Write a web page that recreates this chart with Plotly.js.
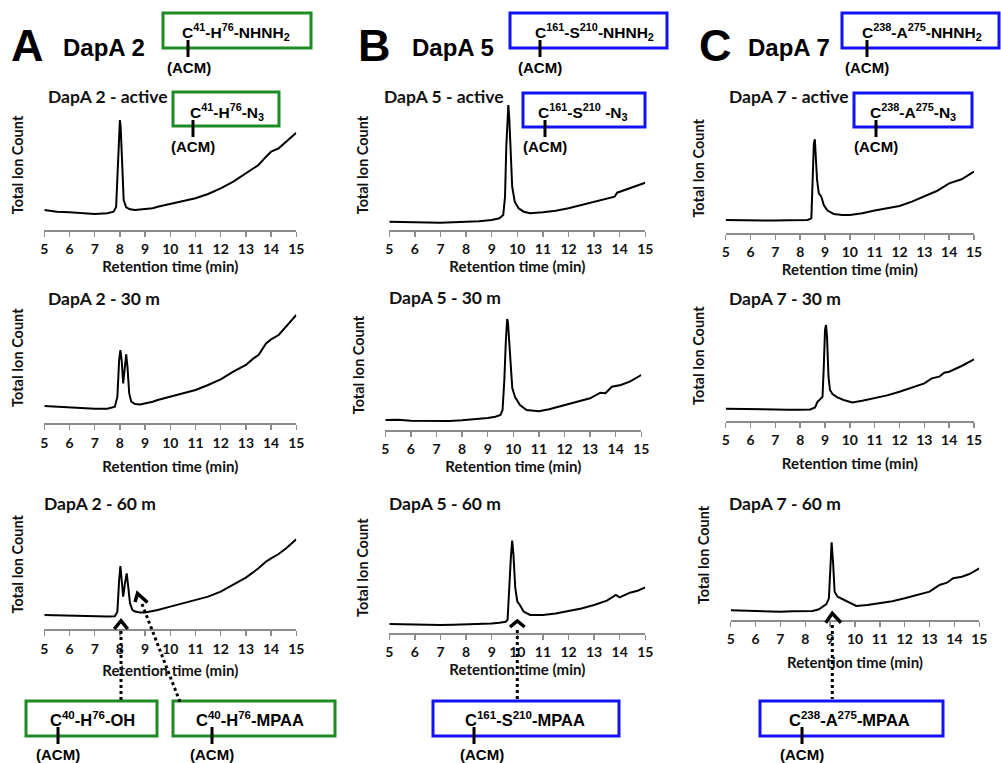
<!DOCTYPE html>
<html>
<head>
<meta charset="utf-8">
<script src="https://cdn.plot.ly/plotly-3.0.1.min.js"></script>
<style>
  html, body { margin: 0; padding: 0; background: #ffffff; }
  #chart { width: 1001px; height: 763px; }
</style>
</head>
<body>
<div id="chart"></div>
<script>
// LC-MS total ion chromatograms, retention time in minutes, intensity in relative units.

// DapA 2
const dapa2ActiveTime = [5, 5.5, 6, 6.5, 7, 7.5, 7.75, 7.85, 7.92, 7.97, 8.0, 8.03, 8.08, 8.15, 8.25, 8.4, 8.6, 8.8, 9.0, 9.3, 9.5, 10, 10.5, 11, 11.5, 12, 12.5, 13, 13.5, 13.8, 14.0, 14.3, 14.6, 15];
const dapa2ActiveTic  = [20, 18.3, 17.7, 16.7, 16, 16.7, 18.3, 23, 63, 103, 110, 103, 63, 30, 22.7, 20.7, 20, 20.7, 20.7, 21.7, 23.3, 26, 29, 31.7, 36, 41.7, 48.3, 56.7, 65, 73.3, 78.3, 81.7, 88.3, 97.3];

const dapa2Min30Time = [5, 5.5, 6, 6.5, 7, 7.5, 7.8, 7.9, 7.97, 8.02, 8.07, 8.13, 8.19, 8.25, 8.3, 8.37, 8.45, 8.6, 8.8, 9.0, 9.3, 9.5, 10, 10.5, 11, 11.5, 12, 12.5, 13, 13.3, 13.5, 13.8, 14, 14.3, 14.6, 15];
const dapa2Min30Tic  = [16.7, 16, 14.7, 14, 14, 14, 16, 26, 62.7, 72.7, 62.7, 39.3, 52.7, 68.3, 56, 29.3, 21, 18.7, 18.3, 19.3, 21, 22.7, 26, 29.3, 32.7, 37.7, 43.3, 51, 57.7, 64.3, 67.7, 79.3, 83.3, 87.7, 96, 107.7];

const dapa2Min60Time = [5, 5.5, 6, 6.5, 7, 7.5, 7.8, 7.9, 7.97, 8.02, 8.07, 8.13, 8.2, 8.27, 8.33, 8.4, 8.5, 8.6, 8.8, 9.0, 9.3, 9.5, 10, 10.5, 11, 11.5, 12, 12.5, 13, 13.5, 13.8, 14, 14.3, 14.6, 15];
const dapa2Min60Tic  = [14.3, 14, 13.7, 13.3, 12.7, 12.7, 13, 17.7, 49.3, 63.3, 49.3, 32.7, 46, 56, 42.7, 26, 19.3, 17.7, 16.7, 16.7, 18.3, 19.3, 22.7, 26, 29.3, 32.7, 37.7, 44.3, 51.7, 61, 67.7, 71, 75.3, 81, 90];

// DapA 5
const dapa5ActiveTime = [5, 5.5, 6, 6.5, 7, 7.5, 8, 8.5, 9, 9.3, 9.45, 9.52, 9.57, 9.62, 9.65, 9.69, 9.74, 9.8, 9.9, 10.05, 10.25, 10.5, 11, 11.5, 12, 12.5, 13, 13.5, 13.8, 13.9, 14, 14.5, 15];
const dapa5ActiveTic  = [8.3, 8, 7.7, 7.3, 7.3, 7.7, 8, 8.7, 10, 11.7, 15, 33, 83, 120, 125, 110, 70, 43.3, 28.3, 21.7, 18.3, 16.7, 17.7, 19.3, 21.7, 25, 28.3, 31.7, 33.3, 37.3, 38.3, 42.7, 47.3];

const dapa5Min30Time = [5, 5.5, 6, 6.5, 7, 7.5, 8, 8.5, 9, 9.3, 9.5, 9.58, 9.65, 9.71, 9.76, 9.79, 9.84, 9.91, 9.96, 10.07, 10.26, 10.52, 11, 11.4, 12, 12.6, 13, 13.4, 13.6, 13.85, 14.2, 14.55, 15];
const dapa5Min30Tic  = [10, 10.3, 9.3, 9, 8.7, 9, 9.7, 10.7, 12, 13.3, 15, 20, 50, 90, 111, 108, 90, 55, 42, 33, 25, 20, 18.7, 20.7, 24.7, 28.3, 31.7, 37.3, 36.7, 43.3, 45, 48.3, 55];

const dapa5Min60Time = [5, 5.5, 6, 6.5, 7, 7.5, 8, 8.5, 9, 9.3, 9.55, 9.62, 9.69, 9.75, 9.8, 9.85, 9.92, 10.0, 10.1, 10.25, 10.5, 11, 11.5, 12, 12.5, 13, 13.5, 13.85, 14.0, 14.4, 14.7, 15];
const dapa5Min60Tic  = [8.7, 8.3, 8, 7.7, 7.7, 8, 8.3, 8.7, 9.3, 10, 11, 13, 52.7, 76, 92, 78, 45, 31, 27.7, 21, 17.7, 17.7, 19.3, 21.7, 24.3, 27.7, 32, 37.7, 35.3, 40, 42, 45.3];

// DapA 7
const dapa7ActiveTime = [5, 5.5, 6, 6.5, 7, 7.5, 8, 8.3, 8.45, 8.5, 8.55, 8.59, 8.63, 8.68, 8.75, 8.85, 8.95, 9.1, 9.35, 9.7, 10, 10.5, 11, 11.5, 12, 12.5, 13, 13.5, 14, 14.5, 15];
const dapa7ActiveTic  = [13.3, 13, 12.7, 12.7, 12.7, 13, 13, 13.3, 15, 46.7, 90, 94, 80, 53.3, 40, 36.7, 28.3, 22.7, 19.3, 18.3, 18.3, 20, 22.7, 24.7, 27.3, 31.7, 36.7, 42.3, 50, 54, 61.7];

const dapa7Min30Time = [5, 5.5, 6, 6.5, 7, 7.5, 8, 8.4, 8.6, 8.7, 8.8, 8.9, 8.95, 9.0, 9.04, 9.08, 9.14, 9.2, 9.3, 9.5, 9.75, 10.1, 10.5, 11, 11.5, 12, 12.5, 13, 13.3, 13.6, 13.8, 14, 14.5, 15];
const dapa7Min30Tic  = [12, 11.7, 11.3, 11, 11, 11, 11, 11.3, 13.3, 19, 21.3, 24, 54, 90.7, 95.7, 84, 44, 30.7, 26.7, 23.3, 20.7, 18.3, 20, 22.3, 25.3, 29, 33, 37.3, 42.3, 44, 48, 49, 54.7, 61.3];

const dapa7Min60Time = [5, 5.5, 6, 6.5, 7, 7.5, 8, 8.3, 8.55, 8.7, 8.85, 8.95, 9.0, 9.06, 9.12, 9.18, 9.3, 9.5, 9.7, 10.05, 10.5, 11, 11.5, 12, 12.5, 13, 13.4, 13.7, 13.95, 14.3, 14.6, 15];
const dapa7Min60Tic  = [9.7, 9.3, 9, 8.7, 8.3, 8.7, 8.7, 9, 10.7, 13.3, 16, 21.7, 53.3, 77.7, 56.7, 28.3, 23.3, 20.7, 18, 14, 15, 16.7, 18.7, 21.7, 24.7, 28.3, 35, 37.3, 41.7, 43.3, 46, 51.7];

// Panel titles, row by row
const panelTitles = [
  'DapA 2 - active', 'DapA 5 - active', 'DapA 7 - active',
  'DapA 2 - 30 m',   'DapA 5 - 30 m',   'DapA 7 - 30 m',
  'DapA 2 - 60 m',   'DapA 5 - 60 m',   'DapA 7 - 60 m'
];
const runs = [
  [dapa2ActiveTime, dapa2ActiveTic], [dapa5ActiveTime, dapa5ActiveTic], [dapa7ActiveTime, dapa7ActiveTic],
  [dapa2Min30Time, dapa2Min30Tic],   [dapa5Min30Time, dapa5Min30Tic],   [dapa7Min30Time, dapa7Min30Tic],
  [dapa2Min60Time, dapa2Min60Tic],   [dapa5Min60Time, dapa5Min60Tic],   [dapa7Min60Time, dapa7Min60Tic]
];
const timeTicks = [5, 6, 7, 8, 9, 10, 11, 12, 13, 14, 15];

// ---- page geometry (pixels) ----
const W = 1001, H = 763;
const px = v => v / W;
const py = v => 1 - v / H;
const PLOT_H = 130;   // y span of each chromatogram, px

// ends of the time axis, axis line y, tick label / axis title offsets, panel title position
const frames = [
  {x0: 44.3,  x1: 296.3, base: 230,   lab: 0, tst: 5,  tx: 46,  ty: 97},
  {x0: 389.3, x1: 645.3, base: 230,   lab: 0, tst: 5,  tx: 382, ty: 97},
  {x0: 725.7, x1: 974,   base: 233.3, lab: 0, tst: 2,  tx: 727, ty: 97},
  {x0: 44.3,  x1: 296.3, base: 422.7, lab: 1, tst: 12, tx: 46,  ty: 298},
  {x0: 385.3, x1: 641.3, base: 430,   lab: 0, tst: 4,  tx: 387, ty: 297},
  {x0: 725.7, x1: 974,   base: 420.7, lab: 0, tst: 12, tx: 727, ty: 298},
  {x0: 44.3,  x1: 296.3, base: 629.3, lab: 1, tst: 9,  tx: 42,  ty: 503},
  {x0: 389.3, x1: 645.3, base: 632.7, lab: 0, tst: 5,  tx: 387, ty: 503},
  {x0: 730.7, x1: 979.3, base: 620,   lab: 0, tst: 12, tx: 727, ty: 503}
];

const calibri = 'Lato, sans-serif';
const arial = 'Arial, "Liberation Sans", sans-serif';
const AXIS_GREY = '#8c8c8c';
const GREEN = '#1f8b24';
const BLUE = '#1212f5';

const traces = [];
const layout = {
  width: W, height: H,
  margin: {l: 0, r: 0, t: 0, b: 0},
  paper_bgcolor: '#ffffff', plot_bgcolor: 'rgba(0,0,0,0)',
  showlegend: false,
  annotations: [], shapes: []
};

runs.forEach((run, i) => {
  const f = frames[i];
  const n = i === 0 ? '' : String(i + 1);
  traces.push({
    type: 'scatter', mode: 'lines',
    x: run[0], y: run[1],
    xaxis: 'x' + n, yaxis: 'y' + n,
    line: {color: '#000000', width: 2},
    hoverinfo: 'skip'
  });
  layout['xaxis' + n] = {
    domain: [px(f.x0), px(f.x1)], range: [5, 15], anchor: 'y' + n,
    tickmode: 'array', tickvals: timeTicks, ticktext: timeTicks.map(String),
    showline: true, linecolor: AXIS_GREY, linewidth: 2,
    ticks: 'outside', ticklen: 5, tickwidth: 1.5, tickcolor: AXIS_GREY,
    ticklabelstandoff: f.lab,
    tickfont: {family: calibri, size: 14, weight: 'bold', color: '#111111'},
    showgrid: false, zeroline: false, fixedrange: true,
    title: {text: 'Retention time (min)', standoff: f.tst,
            font: {family: calibri, size: 15, weight: 'bold', color: '#111111'}}
  };
  layout['yaxis' + n] = {
    domain: [py(f.base), py(f.base - PLOT_H)], range: [0, PLOT_H], anchor: 'x' + n,
    showline: false, showticklabels: false, ticks: '', showgrid: false, zeroline: false,
    fixedrange: true,
    title: {text: 'Total Ion Count', standoff: 16,
            font: {family: calibri, size: 14.5, weight: 'bold', color: '#111111'}}
  };
  layout.annotations.push({
    xref: 'paper', yref: 'paper', x: px(f.tx), y: py(f.ty),
    xanchor: 'left', yanchor: 'middle', showarrow: false,
    text: panelTitles[i],
    font: {family: calibri, size: 17.5, weight: 'bold', color: '#111111'}
  });
});

function label(x, y, text, size, anchor) {
  layout.annotations.push({
    xref: 'paper', yref: 'paper', x: px(x), y: py(y),
    xanchor: anchor || 'center', yanchor: 'middle', showarrow: false,
    text: text, font: {family: arial, size: size, weight: 'bold', color: '#000000'}
  });
}
function box(x0, y0, x1, y1, color) {
  layout.shapes.push({type: 'rect', xref: 'paper', yref: 'paper',
    x0: px(x0), x1: px(x1), y0: py(y1), y1: py(y0),
    line: {color: color, width: 3}, fillcolor: 'rgba(0,0,0,0)'});
}
function stroke(x0, y0, x1, y1, dash, width) {
  layout.shapes.push({type: 'line', xref: 'paper', yref: 'paper',
    x0: px(x0), x1: px(x1), y0: py(y0), y1: py(y1),
    line: {color: '#000000', width: width || 3, dash: dash || 'solid'}});
}
function chevron(pts) {
  const d = pts.map((p, k) => (k ? 'L' : 'M') + px(p[0]) + ',' + py(p[1])).join(' ');
  layout.shapes.push({type: 'path', xref: 'paper', yref: 'paper', path: d,
    line: {color: '#000000', width: 3.5}, fillcolor: 'rgba(0,0,0,0)'});
}
// peptide label: boxed name with an (ACM) side chain hanging from the cysteine
function peptide(b, text, color, size, lineX, textX, textY, acmX) {
  box(b[0], b[1], b[2], b[3], color);
  label(textX, textY, text, size);
  stroke(lineX, textY + 8, lineX, textY + 25);
  label(acmX, textY + 35, '(ACM)', 15);
}

// panel letters and protein names
label(27, 46, 'A', 45);
label(374, 46, 'B', 45);
label(715, 46, 'C', 45);
label(61, 47, 'DapA 2', 24, 'left');
label(410, 47, 'DapA 5', 24, 'left');
label(746, 47, 'DapA 7', 24, 'left');

// hydrazide precursors
peptide([163, 13, 311, 48], 'C<sup>41</sup>-H<sup>76</sup>-NHNH<sub>2</sub>', GREEN, 15.5, 188, 236, 32, 189);
peptide([510, 13, 667, 48], 'C<sup>161</sup>-S<sup>210</sup>-NHNH<sub>2</sub>', BLUE, 15.5, 540, 594, 32, 540);
peptide([842, 13, 999, 48], 'C<sup>238</sup>-A<sup>275</sup>-NHNH<sub>2</sub>', BLUE, 15.5, 867, 922, 32, 867);
// activated azides
peptide([173, 92, 279, 126], 'C<sup>41</sup>-H<sup>76</sup>-N<sub>3</sub>', GREEN, 15.5, 193, 227, 112, 193);
peptide([523, 93, 645, 127], 'C<sup>161</sup>-S<sup>210</sup> -N<sub>3</sub>', BLUE, 15.5, 545, 583, 112, 545);
peptide([854, 93, 972, 127], 'C<sup>238</sup>-A<sup>275</sup>-N<sub>3</sub>', BLUE, 15.5, 876, 913, 112, 876);
// products after 60 min
peptide([26, 701, 157, 736], 'C<sup>40</sup>-H<sup>76</sup>-OH', GREEN, 16.5, 58, 92, 719, 58);
peptide([173, 701, 335, 736], 'C<sup>40</sup>-H<sup>76</sup>-MPAA', GREEN, 16.5, 212, 250, 719, 212);
peptide([433, 701, 619, 736], 'C<sup>161</sup>-S<sup>210</sup>-MPAA', BLUE, 16.5, 474, 525, 719, 482);
peptide([760, 701, 943, 736], 'C<sup>238</sup>-A<sup>275</sup>-MPAA', BLUE, 16.5, 802, 849, 719, 802);

// peak assignments: dotted leaders with open arrowheads
chevron([[114.3, 629], [121, 620.7], [127.7, 629]]);
stroke(121, 631, 121, 701, 'dot');
chevron([[135, 602], [137.5, 593.5], [147.5, 602.5]]);
stroke(142, 604, 180, 702, 'dot');
chevron([[510, 627], [517.3, 621], [524.7, 627]]);
stroke(517.3, 630, 517.3, 701, 'dot');
chevron([[825.7, 622.7], [832.3, 613.3], [841, 622.7]]);
stroke(832.3, 625, 832.3, 699, 'dot');

Plotly.newPlot('chart', traces, layout, {staticPlot: true, displayModeBar: false});
</script>
</body>
</html>
